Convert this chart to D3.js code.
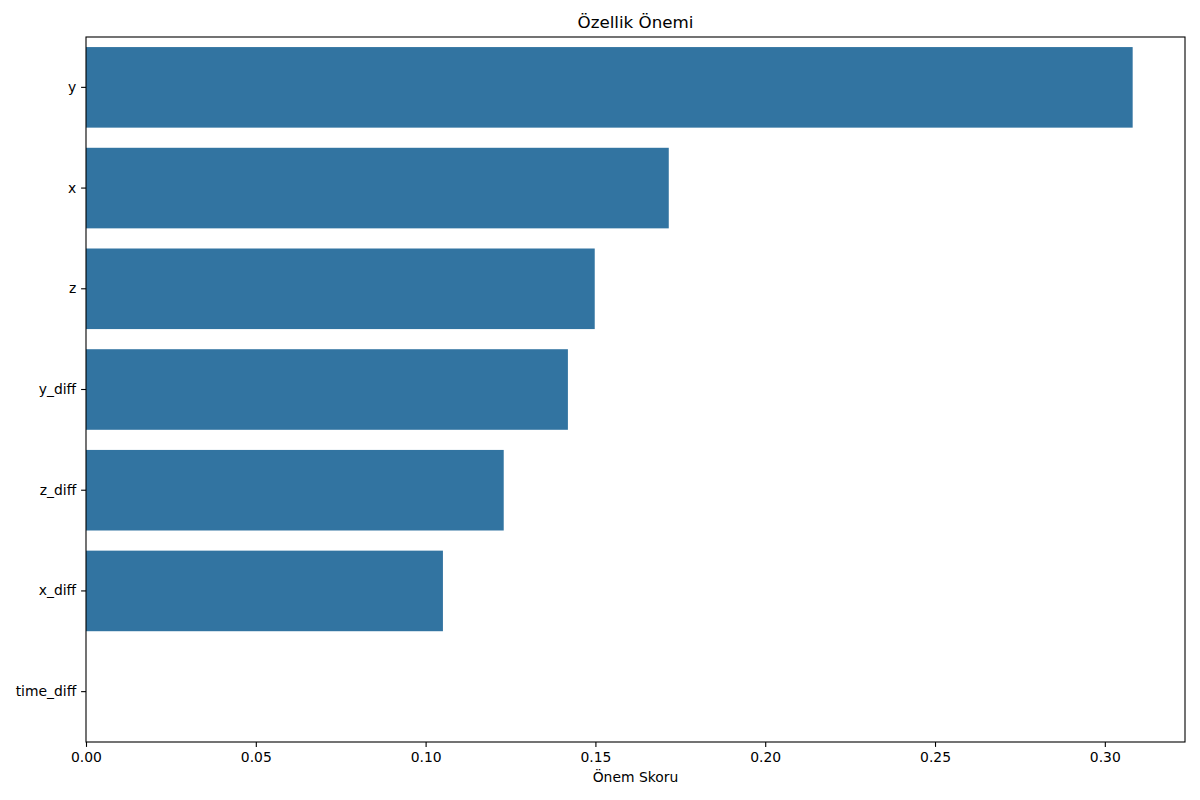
<!DOCTYPE html>
<html>
<head>
<meta charset="utf-8">
<script src="https://cdn.jsdelivr.net/npm/d3@7"></script>
<style>
  body { margin: 0; background: #fff; }
  text { font-family: "DejaVu Sans", sans-serif; fill: #000; }
</style>
</head>
<body>
<div id="chart"></div>
<script>
// Feature names and importance values
let features = ['y', 'x', 'z', 'y_diff', 'z_diff', 'x_diff', 'time_diff'];
let importance = [0.3082, 0.1716, 0.1498, 0.1419, 0.1230, 0.1051, 0.0];
let xTicks = [0.00, 0.05, 0.10, 0.15, 0.20, 0.25, 0.30];

let svgWidth = 1200;
let svgHeight = 800;
let margins = { top: 37, bottom: 58, left: 86, right: 15 };
let chartWidth = svgWidth - margins.left - margins.right;
let chartHeight = svgHeight - margins.top - margins.bottom;

let data = features.map((f, i) => ({ name: f, value: importance[i] }));

let svg = d3.select('#chart').append('svg')
    .attr('width', svgWidth)
    .attr('height', svgHeight);
let chart = svg.append('g')
    .attr('transform', `translate(${margins.left}, ${margins.top})`);

// Scales (5% margin on the right like matplotlib)
let xScale = d3.scaleLinear()
    .domain([0, d3.max(importance) * 1.05])
    .range([0, chartWidth]);
let yScale = d3.scaleBand()
    .domain(features)
    .range([0, chartHeight])
    .paddingInner(0.2)
    .paddingOuter(0.1);

// Bars
chart.selectAll('rect.bar')
    .data(data).enter()
    .append('rect')
    .attr('class', 'bar')
    .attr('x', 0)
    .attr('y', d => yScale(d.name))
    .attr('width', d => xScale(d.value))
    .attr('height', yScale.bandwidth())
    .attr('fill', '#3274a1');

// Axes
let xAxis = d3.axisBottom(xScale)
    .tickValues(xTicks)
    .tickFormat(d3.format('.2f'))
    .tickSizeOuter(0)
    .tickSize(4.9)
    .tickPadding(4.9);
let yAxis = d3.axisLeft(yScale)
    .tickSizeOuter(0)
    .tickSize(4.9)
    .tickPadding(4.9);

let xAxisTag = chart.append('g')
    .attr('transform', `translate(0, ${chartHeight})`)
    .call(xAxis);
let yAxisTag = chart.append('g').call(yAxis);

[xAxisTag, yAxisTag].forEach(ax => {
    ax.select('.domain').remove();
    ax.selectAll('.tick line').attr('stroke', '#000').attr('stroke-width', 1.1);
    ax.selectAll('.tick text').style('font-size', '13.9px').style('font-family', '"DejaVu Sans", sans-serif');
});

// Frame (all four spines)
chart.append('rect')
    .attr('x', 0)
    .attr('y', 0)
    .attr('width', chartWidth)
    .attr('height', chartHeight)
    .attr('fill', 'none')
    .attr('stroke', '#000')
    .attr('stroke-width', 1.1);

// Title
svg.append('text')
    .attr('x', margins.left + chartWidth / 2)
    .attr('y', 28)
    .attr('text-anchor', 'middle')
    .style('font-size', '16.7px')
    .text('Özellik Önemi');

// X label
svg.append('text')
    .attr('x', margins.left + chartWidth / 2)
    .attr('y', 782)
    .attr('text-anchor', 'middle')
    .style('font-size', '13.9px')
    .text('Önem Skoru');
</script>
</body>
</html>
